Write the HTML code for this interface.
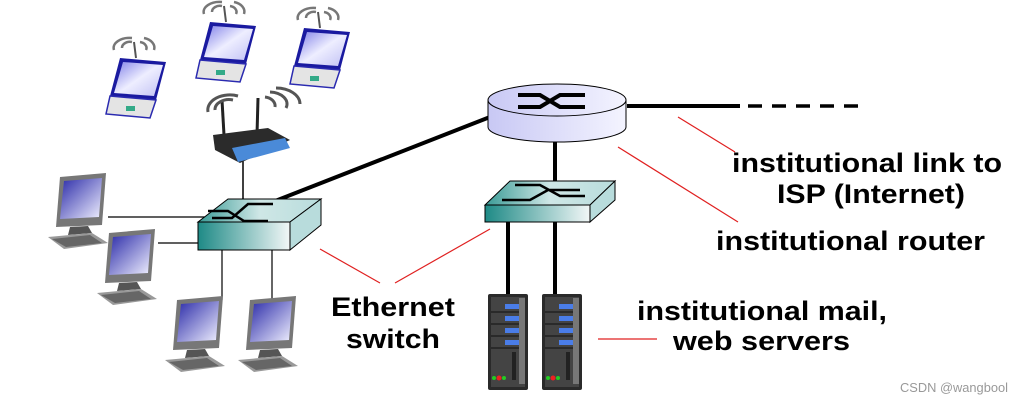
<!DOCTYPE html>
<html><head><meta charset="utf-8"><style>
html,body{margin:0;padding:0;background:#fff;}
svg{display:block}
.t{font-family:"Liberation Sans",Arial,sans-serif;font-weight:bold;font-size:27px;fill:#000}
</style></head><body>
<svg width="1024" height="404" viewBox="0 0 1024 404" xmlns="http://www.w3.org/2000/svg">
<defs>
<linearGradient id="sw" x1="0" x2="1"><stop offset="0" stop-color="#1e8a86"/><stop offset="1" stop-color="#f2f7f7"/></linearGradient>
<linearGradient id="swt" x1="0" x2="1"><stop offset="0" stop-color="#3a9b96"/><stop offset="0.5" stop-color="#cfe7e6"/><stop offset="1" stop-color="#b8dcdc"/></linearGradient>
<linearGradient id="rt" x1="0" x2="1"><stop offset="0" stop-color="#c8c8f4"/><stop offset="1" stop-color="#f4f4ff"/></linearGradient>
<linearGradient id="scr" x1="0" y1="0" x2="1" y2="1"><stop offset="0" stop-color="#2a2aa8"/><stop offset="1" stop-color="#f0f0ff"/></linearGradient>
<linearGradient id="lap" x1="0" y1="0" x2="1" y2="1"><stop offset="0" stop-color="#8080e8"/><stop offset="0.5" stop-color="#eeeeff"/><stop offset="1" stop-color="#c0c0f4"/></linearGradient>
<g id="pc">
<polygon points="12,0 58,-4 54,48 8,50" fill="#777"/>
<polygon points="16,4 54,1 51,40 12,42" fill="url(#scr)"/>
<polygon points="22,50 40,49 44,56 20,58" fill="#555"/>
<polygon points="0,60 44,56 60,66 16,72" fill="#999"/>
<polygon points="4,62 42,58 54,66 18,70" fill="#666"/>
</g>
<g id="lt">
<polygon points="14,0 60,4 50,42 4,38" fill="#1a1aa0"/>
<polygon points="17,4 57,7 48,38 8,35" fill="url(#lap)"/>
<polygon points="4,38 50,42 44,60 0,56" fill="#e4e4e4" stroke="#2a2ab0" stroke-width="1.5"/>
<rect x="20" y="48" width="9" height="5" fill="#3a8"/>
<g fill="none" stroke="#777" stroke-width="2.5">
<path d="M16,-10 a8,6 0 0 1 10,-6"/><path d="M8,-8 a16,10 0 0 1 18,-12"/>
<path d="M34,-16 a8,6 0 0 1 6,8"/><path d="M38,-20 a14,10 0 0 1 10,12"/>
</g>
<line x1="28" y1="-16" x2="30" y2="0" stroke="#555" stroke-width="2"/>
</g>
<g id="srv">
<rect x="0" y="0" width="40" height="96" rx="2" fill="#2a2a2a"/>
<rect x="3" y="3" width="34" height="90" fill="#444"/>
<rect x="31" y="4" width="6" height="86" fill="#777"/>
<g fill="#4a7de8"><rect x="17" y="10" width="14" height="5"/><rect x="17" y="22" width="14" height="5"/><rect x="17" y="34" width="14" height="5"/><rect x="17" y="46" width="14" height="5"/></g>
<g stroke="#222" stroke-width="1.5"><line x1="3" y1="18" x2="31" y2="18"/><line x1="3" y1="30" x2="31" y2="30"/><line x1="3" y1="42" x2="31" y2="42"/><line x1="3" y1="54" x2="31" y2="54"/></g>
<rect x="24" y="58" width="4" height="28" fill="#222"/>
<circle cx="6" cy="84" r="2" fill="#2c2"/><circle cx="11" cy="84" r="2.5" fill="#e22"/><circle cx="16" cy="84" r="2" fill="#2c2"/>
</g>
</defs>

<line x1="490" y1="117" x2="252" y2="210" stroke="#000" stroke-width="4"/>
<line x1="627" y1="106" x2="740" y2="106" stroke="#000" stroke-width="4"/>
<line x1="748" y1="106" x2="862" y2="106" stroke="#000" stroke-width="3.5" stroke-dasharray="14,10"/>
<line x1="555" y1="140" x2="555" y2="185" stroke="#000" stroke-width="4"/>
<line x1="243" y1="155" x2="243" y2="214" stroke="#000" stroke-width="1.5"/>
<line x1="108" y1="217" x2="215" y2="217" stroke="#000" stroke-width="1.2"/>
<line x1="158" y1="243" x2="200" y2="243" stroke="#000" stroke-width="1.2"/>
<line x1="222" y1="250" x2="222" y2="300" stroke="#000" stroke-width="1.2"/>
<line x1="272" y1="250" x2="272" y2="300" stroke="#000" stroke-width="1.2"/>
<line x1="508" y1="222" x2="508" y2="296" stroke="#000" stroke-width="4"/>
<line x1="555" y1="222" x2="555" y2="296" stroke="#000" stroke-width="4"/>

<path d="M488,100 L488,127 A69,15 0 0 0 626,127 L626,100 Z" fill="url(#rt)" stroke="#000" stroke-width="1"/>
<ellipse cx="557" cy="100" rx="69" ry="16" fill="url(#rt)" stroke="#000" stroke-width="1"/>
<path d="M518,95 L540,95 L560,107 L585,107 M518,107 L540,107 L560,95 L585,95" fill="none" stroke="#000" stroke-width="4"/>

<polygon points="198,222 228,199 321,199 290,222" fill="url(#swt)" stroke="#000" stroke-width="1"/>
<polygon points="290,222 321,199 321,225 290,250" fill="#b8dcdc" stroke="#000" stroke-width="1"/>
<rect x="198" y="222" width="92" height="28" fill="url(#sw)" stroke="#000" stroke-width="1"/>
<path d="M212,218 L232,218 L248,204 L273,204 M208,211 L228,211 L244,221 L268,221" fill="none" stroke="#000" stroke-width="2.5"/>

<polygon points="485,205 510,181 615,181 590,205" fill="url(#swt)" stroke="#000" stroke-width="1"/>
<polygon points="590,205 615,181 615,200 590,222" fill="#b8dcdc" stroke="#000" stroke-width="1"/>
<rect x="485" y="205" width="105" height="17" fill="url(#sw)" stroke="#000" stroke-width="1"/>
<path d="M502,200 L530,200 L548,190 L580,190 M515,185 L540,185 L560,196 L585,196" fill="none" stroke="#000" stroke-width="2.5"/>

<line x1="222" y1="100" x2="224" y2="135" stroke="#222" stroke-width="3"/>
<line x1="258" y1="98" x2="257" y2="135" stroke="#222" stroke-width="3"/>
<polygon points="213,135 268,128 290,140 240,163 215,150" fill="#2b2b2b"/>
<polygon points="232,148 285,138 290,148 238,162" fill="#4a8ad8"/>
<g fill="none" stroke="#555" stroke-width="3">
<path d="M215,110 a14,10 0 0 1 18,-10"/><path d="M208,112 a22,15 0 0 1 30,-16"/>
<path d="M265,97 a12,9 0 0 1 10,10"/><path d="M270,92 a18,12 0 0 1 16,16"/><path d="M276,88 a24,16 0 0 1 24,16"/>
</g>

<use href="#lt" x="106" y="58"/>
<use href="#lt" x="196" y="22"/>
<use href="#lt" x="290" y="28"/>

<use href="#pc" x="48" y="177"/>
<use href="#pc" x="97" y="233"/>
<use href="#pc" x="165" y="300"/>
<use href="#pc" x="238" y="300"/>

<use href="#srv" x="488" y="294"/>
<use href="#srv" x="542" y="294"/>

<g stroke="#e02020" stroke-width="1.2">
<line x1="320" y1="249" x2="380" y2="283"/>
<line x1="395" y1="283" x2="490" y2="229"/>
<line x1="598" y1="339" x2="657" y2="339"/>
<line x1="618" y1="147" x2="738" y2="222"/>
<line x1="678" y1="117" x2="735" y2="152"/>
</g>

<text class="t" x="732" y="172" textLength="270" lengthAdjust="spacingAndGlyphs">institutional link to</text>
<text class="t" x="777" y="203" textLength="188" lengthAdjust="spacingAndGlyphs">ISP (Internet)</text>
<text class="t" x="716" y="250" textLength="269" lengthAdjust="spacingAndGlyphs">institutional router</text>
<text class="t" x="331" y="316" textLength="124" lengthAdjust="spacingAndGlyphs">Ethernet</text>
<text class="t" x="346" y="348" textLength="94" lengthAdjust="spacingAndGlyphs">switch</text>
<text class="t" x="637" y="320" textLength="250" lengthAdjust="spacingAndGlyphs">institutional mail,</text>
<text class="t" x="673" y="350" textLength="177" lengthAdjust="spacingAndGlyphs">web servers</text>
<text x="900" y="392" font-family="Liberation Sans,Arial,sans-serif" font-size="13" fill="#999" textLength="108" lengthAdjust="spacingAndGlyphs">CSDN @wangbool</text>
</svg>
</body></html>
